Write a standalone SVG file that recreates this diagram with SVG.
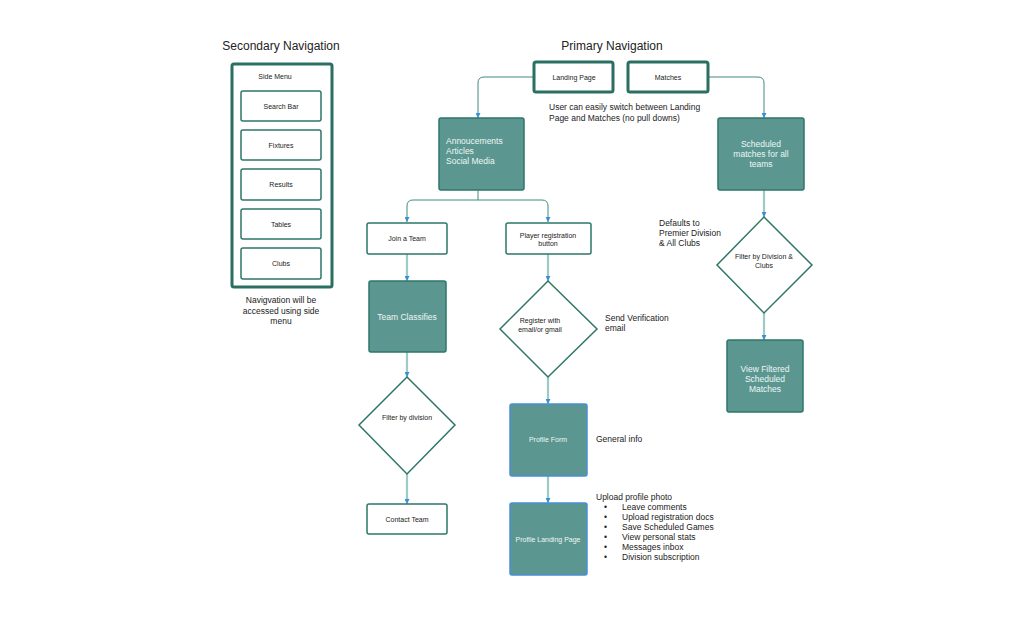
<svg xmlns="http://www.w3.org/2000/svg" width="1024" height="640" viewBox="0 0 1024 640">
<defs>
<marker id="arr" markerUnits="userSpaceOnUse" markerWidth="6" markerHeight="5" refX="5" refY="2.5" orient="auto">
<path d="M0,0 L5,2.5 L0,5 Z" fill="#3b8fd8"/>
</marker>
<style>
text{font-family:"Liberation Sans",Arial,sans-serif;fill:#222}
.title{font-size:12px;text-anchor:middle}
.lbl{font-size:7px;text-anchor:middle}
.note{font-size:8.5px}
.wl{font-size:8.5px;fill:#eef6f5}
.box{fill:#fff;stroke:#2e7768;stroke-width:1.5}
.thick{fill:#fff;stroke:#2b6f62;stroke-width:3}
.fill{fill:#5b9690;stroke:#2e7768;stroke-width:1.5}
.fillb{fill:#5b9690;stroke:#4a8fd8;stroke-width:1.5}
.dia{fill:#fff;stroke:#2e7768;stroke-width:1.5}
.c1{fill:none;stroke:#3f8a7f;stroke-width:1;marker-end:url(#arr)}
.c2{fill:none;stroke:#9ccac4;stroke-width:2.2;marker-end:url(#arr)}
.c0{fill:none;stroke:#3f8a7f;stroke-width:1}
</style>
</defs>
<rect width="1024" height="640" fill="#fff"/>

<text class="title" x="281" y="50">Secondary Navigation</text>
<text class="title" x="612" y="50">Primary Navigation</text>

<g id="connectors">
<path class="c1" d="M534,77 H484 Q478,77 478,83 V118"/>
<path class="c1" d="M708,77 H758 Q764,77 764,83 V118"/>
<path class="c0" d="M478,190 V200"/>
<path class="c1" d="M478,200 H413 Q407,200 407,206 V222"/>
<path class="c1" d="M478,200 H542 Q548,200 548,206 V222"/>
<path class="c2" d="M407,254 V281"/>
<path class="c2" d="M407,352 V377"/>
<path class="c2" d="M407,474 V504"/>
<path class="c2" d="M548,254 V281"/>
<path class="c2" d="M548,377 V404"/>
<path class="c2" d="M548,476 V503"/>
<path class="c2" d="M764,190 V217"/>
<path class="c2" d="M764,313 V340"/>
</g>

<g id="side-menu">
<rect class="thick" x="232" y="64" width="100" height="223" rx="2"/>
<text class="lbl" x="275" y="79">Side Menu</text>
</g>
<g id="search-bar"><rect class="box" x="241" y="91" width="80" height="30" rx="2"/><text class="lbl" x="281" y="108.5">Search Bar</text></g>
<g id="fixtures"><rect class="box" x="241" y="130" width="80" height="30" rx="2"/><text class="lbl" x="281" y="147.5">Fixtures</text></g>
<g id="results"><rect class="box" x="241" y="169" width="80" height="31" rx="2"/><text class="lbl" x="281" y="187">Results</text></g>
<g id="tables"><rect class="box" x="241" y="209" width="80" height="30" rx="2"/><text class="lbl" x="281" y="226.5">Tables</text></g>
<g id="clubs"><rect class="box" x="241" y="248" width="80" height="31" rx="2"/><text class="lbl" x="281" y="266">Clubs</text></g>
<g id="nav-note">
<text class="note" text-anchor="middle" x="281" y="303">Navigvation will be</text>
<text class="note" text-anchor="middle" x="281" y="314">accessed using side</text>
<text class="note" text-anchor="middle" x="281" y="324">menu</text>
</g>

<g id="landing-page"><rect class="thick" x="534" y="62" width="79" height="30" rx="2"/><text class="lbl" x="574" y="80">Landing Page</text></g>
<g id="matches"><rect class="thick" x="628" y="62" width="80" height="30" rx="2"/><text class="lbl" x="668" y="80">Matches</text></g>
<g id="switch-note">
<text class="note" x="549" y="110">User can easily switch between Landing</text>
<text class="note" x="549" y="121">Page and Matches (no pull downs)</text>
</g>

<g id="announcements">
<rect class="fill" x="439" y="118" width="85" height="72" rx="2"/>
<text class="wl" x="446" y="144">Annoucements</text>
<text class="wl" x="446" y="154">Articles</text>
<text class="wl" x="446" y="164">Social Media</text>
</g>
<g id="scheduled">
<rect class="fill" x="718" y="118" width="86" height="72" rx="2"/>
<text class="wl" text-anchor="middle" x="761" y="147">Scheduled</text>
<text class="wl" text-anchor="middle" x="761" y="157">matches for all</text>
<text class="wl" text-anchor="middle" x="761" y="167">teams</text>
</g>

<g id="join-team"><rect class="box" x="367" y="223" width="80" height="31" rx="2"/><text class="lbl" x="407" y="241">Join a Team</text></g>
<g id="player-registration"><rect class="box" x="506" y="223" width="85" height="31" rx="2"/>
<text class="lbl" x="548" y="238">Player registration</text>
<text class="lbl" x="548" y="246">button</text></g>

<g id="team-classifies"><rect class="fill" x="369" y="281" width="77" height="71" rx="2"/><text class="wl" text-anchor="middle" x="407" y="320">Team Classifies</text></g>

<g id="register">
<polygon class="dia" points="548,281 597,329 548,377 500,329"/>
<text class="lbl" x="540" y="323">Register with</text>
<text class="lbl" x="540" y="332">email/or gmail</text>
</g>
<g id="verification-note">
<text class="note" x="605" y="321">Send Verification</text>
<text class="note" x="605" y="331">email</text>
</g>

<g id="defaults-note">
<text class="note" x="659" y="226">Defaults to</text>
<text class="note" x="659" y="236">Premier Division</text>
<text class="note" x="659" y="246">&amp; All Clubs</text>
</g>
<g id="filter-division-clubs">
<polygon class="dia" points="764,217 812,265 764,313 717,265"/>
<text class="lbl" x="764" y="259">Filter by Division &amp;</text>
<text class="lbl" x="764" y="268">Clubs</text>
</g>
<g id="view-filtered">
<rect class="fill" x="727" y="340" width="76" height="72" rx="2"/>
<text class="wl" text-anchor="middle" x="765" y="372">View Filtered</text>
<text class="wl" text-anchor="middle" x="765" y="382">Scheduled</text>
<text class="wl" text-anchor="middle" x="765" y="392">Matches</text>
</g>

<g id="filter-division">
<polygon class="dia" points="407,377 455,425 407,474 359,425"/>
<text class="lbl" x="407" y="420">Filter by division</text>
</g>
<g id="contact-team"><rect class="box" x="367" y="504" width="80" height="30" rx="2"/><text class="lbl" x="407" y="521.5">Contact Team</text></g>

<g id="profile-form"><rect class="fillb" x="510" y="404" width="77" height="72" rx="2"/><text class="lbl" style="fill:#eef6f5" x="548" y="441.5">Profile Form</text></g>
<g id="general-note"><text class="note" x="596" y="442">General info</text></g>

<g id="profile-landing"><rect class="fillb" x="510" y="503" width="77" height="72" rx="2"/><text class="lbl" style="fill:#eef6f5" x="548" y="542">Profile Landing Page</text></g>
<g id="profile-note">
<text class="note" x="596" y="500">Upload profile photo</text>
<text class="note" x="604" y="510">•</text><text class="note" x="622" y="510">Leave comments</text>
<text class="note" x="604" y="520">•</text><text class="note" x="622" y="520">Upload registration docs</text>
<text class="note" x="604" y="530">•</text><text class="note" x="622" y="530">Save Scheduled Games</text>
<text class="note" x="604" y="540">•</text><text class="note" x="622" y="540">View personal stats</text>
<text class="note" x="604" y="550">•</text><text class="note" x="622" y="550">Messages inbox</text>
<text class="note" x="604" y="560">•</text><text class="note" x="622" y="560">Division subscription</text>
</g>
</svg>
